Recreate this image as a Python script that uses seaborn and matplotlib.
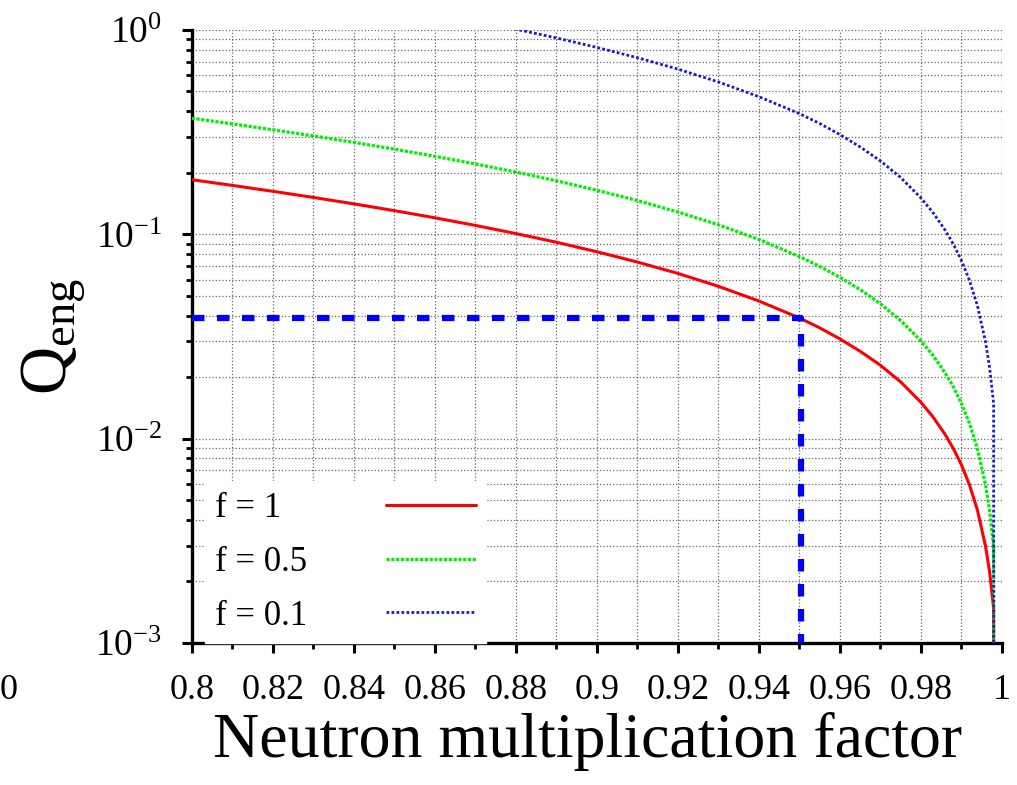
import numpy as np
import pandas as pd
import matplotlib
matplotlib.use("Agg")
import matplotlib.pyplot as plt
import matplotlib.ticker as mticker
import seaborn as sns

# ---------------- data ----------------
k_values = [0.80, 0.81, 0.82, 0.83, 0.84, 0.85, 0.86, 0.87, 0.88, 0.89,
            0.90, 0.91, 0.92, 0.93, 0.94, 0.95, 0.955, 0.96, 0.965, 0.97,
            0.975, 0.98, 0.983, 0.986, 0.988, 0.99, 0.992, 0.994, 0.996,
            0.997, 0.998, 1.0]
q_f1 = [0.185, 0.1736, 0.1624, 0.1516, 0.1410, 0.1306, 0.1205, 0.1106, 0.1009, 0.0915,
        0.0822, 0.0732, 0.0644, 0.0557, 0.0472, 0.0390, 0.0349, 0.0308, 0.0268, 0.0229,
        0.0190, 0.0151, 0.0128, 0.0105, 0.00899, 0.00748, 0.00597, 0.00447, 0.00297,
        0.00223, 0.00148, 0.0]
q_f05 = [0.370, 0.3472, 0.3249, 0.3031, 0.2819, 0.2612, 0.2409, 0.2211, 0.2018, 0.1829,
         0.1644, 0.1464, 0.1287, 0.1114, 0.0945, 0.0779, 0.0697, 0.0617, 0.0537, 0.0458,
         0.0379, 0.0302, 0.0256, 0.0210, 0.0180, 0.01495, 0.01194, 0.00893, 0.00594,
         0.00445, 0.00297, 0.0]
k_values_f01 = [0.87, 0.88, 0.89, 0.90, 0.91, 0.92, 0.93, 0.94, 0.95, 0.955,
                0.96, 0.965, 0.97, 0.975, 0.98, 0.983, 0.986, 0.988, 0.99, 0.992,
                0.994, 0.996, 0.997, 0.998, 1.0]
q_f01 = [1.106, 1.009, 0.915, 0.822, 0.732, 0.644, 0.557, 0.472, 0.390, 0.349,
         0.308, 0.268, 0.229, 0.190, 0.151, 0.128, 0.105, 0.0899, 0.0748, 0.0597,
         0.0447, 0.0297, 0.0223, 0.0148, 0.0]
series_labels = ["f = 1", "f = 0.5", "f = 0.1"]

# design point marked with the blue dashed guide
marker_k = 0.9505
marker_q = 0.0388

x_tick_values = [0.80, 0.82, 0.84, 0.86, 0.88, 0.90, 0.92, 0.94, 0.96, 0.98, 1.00]
x_tick_labels = ["0.8", "0.82", "0.84", "0.86", "0.88", "0.9", "0.92", "0.94",
                 "0.96", "0.98", "1"]
x_limits = (0.8, 1.0)
y_limits = (1e-3, 1.0)

df = pd.concat([
    pd.DataFrame({"k": k_values, "Q": q_f1, "f": series_labels[0]}),
    pd.DataFrame({"k": k_values, "Q": q_f05, "f": series_labels[1]}),
    pd.DataFrame({"k": k_values_f01, "Q": q_f01, "f": series_labels[2]}),
], ignore_index=True)

# ---------------- style ----------------
sns.set_style("white")
plt.rcParams["font.family"] = ["Liberation Serif", "DejaVu Serif"]
plt.rcParams["mathtext.fontset"] = "custom"
plt.rcParams["mathtext.rm"] = "Liberation Serif"
plt.rcParams["mathtext.it"] = "Liberation Serif:italic"
for key in ["text.color", "axes.labelcolor", "xtick.color", "ytick.color"]:
    plt.rcParams[key] = "black"

fig = plt.figure(figsize=(10.17, 7.85), dpi=100)
ax = fig.add_axes([0.1885, 0.1809, 0.7965, 0.7809])
ax.set_yscale("log")

palette = {"f = 1": "#ff0000", "f = 0.5": "#00ee00", "f = 0.1": "#1a1acc"}
dashes = {"f = 1": "", "f = 0.5": (1.0, 0.5), "f = 0.1": (1.0, 0.8)}
sizes = {"f = 1": 2.2, "f = 0.5": 2.3, "f = 0.1": 2.0}

sns.lineplot(data=df, x="k", y="Q", hue="f", style="f", size="f",
             palette=palette, dashes=dashes, sizes=sizes,
             hue_order=series_labels, style_order=series_labels, size_order=series_labels,
             estimator=None, sort=False, legend=False, ax=ax, zorder=3)
curve_handles = list(ax.get_lines()[:3])

# blue dashed guide lines
sns.lineplot(x=[x_limits[0], marker_k, marker_k], y=[marker_q, marker_q, y_limits[0]],
             sort=False, estimator=None, color="#0000ff", linewidth=4.5,
             linestyle=(0, (2.0, 2.0)), ax=ax, zorder=4)

ax.set_xlim(*x_limits)
ax.set_ylim(*y_limits)

# ticks
ax.set_xticks(x_tick_values)
ax.set_xticklabels(x_tick_labels)
ax.xaxis.set_minor_locator(mticker.MultipleLocator(0.01))
ax.yaxis.set_major_locator(mticker.LogLocator(base=10, numticks=10))
ax.yaxis.set_minor_locator(mticker.LogLocator(base=10, subs=np.arange(2, 10), numticks=20))
ax.yaxis.set_minor_formatter(mticker.NullFormatter())

ax.tick_params(axis="both", which="major", direction="out", length=7.5, width=2.2,
               color="black", left=True, bottom=True)
ax.tick_params(axis="both", which="minor", direction="out", length=4, width=2.0,
               color="black", left=True, bottom=True)
ax.tick_params(axis="x", which="major", labelsize=26, pad=15)
ax.tick_params(axis="y", which="major", labelsize=27, pad=14)

# grid
ax.set_axisbelow(True)
ax.grid(which="both", linestyle=":", color="#666666", linewidth=0.9)

# spines
for s in ["top", "right"]:
    ax.spines[s].set_visible(False)
for s in ["left", "bottom"]:
    ax.spines[s].set_linewidth(2.4)
    ax.spines[s].set_color("black")

# labels
ax.set_xlabel("Neutron multiplication factor", fontsize=46)
ax.xaxis.set_label_coords(0.489, -0.113)
ax.set_ylabel(r"$\mathrm{Q}_{\mathrm{eng}}$", fontsize=48)
ax.yaxis.set_label_coords(-0.128, 0.5)

# legend: labels at left, line samples at right
legend_labels = ["f = 1   ", "f = 0.5", "f = 0.1"]
leg = ax.legend(curve_handles, legend_labels, loc="lower left",
                bbox_to_anchor=(0.016, 0.0), borderaxespad=0.0,
                markerfirst=False, fontsize=25, frameon=True, fancybox=False,
                facecolor="white", edgecolor="white", framealpha=1.0,
                handlelength=2.6, handletextpad=2.25, labelspacing=0.6,
                borderpad=0.3)
leg.set_zorder(5)

# stray label fragment at the left edge of the original image
fig.text(0.0, 0.121, "0", fontsize=26, va="center", ha="left")

fig.savefig("out.png", dpi=100)
